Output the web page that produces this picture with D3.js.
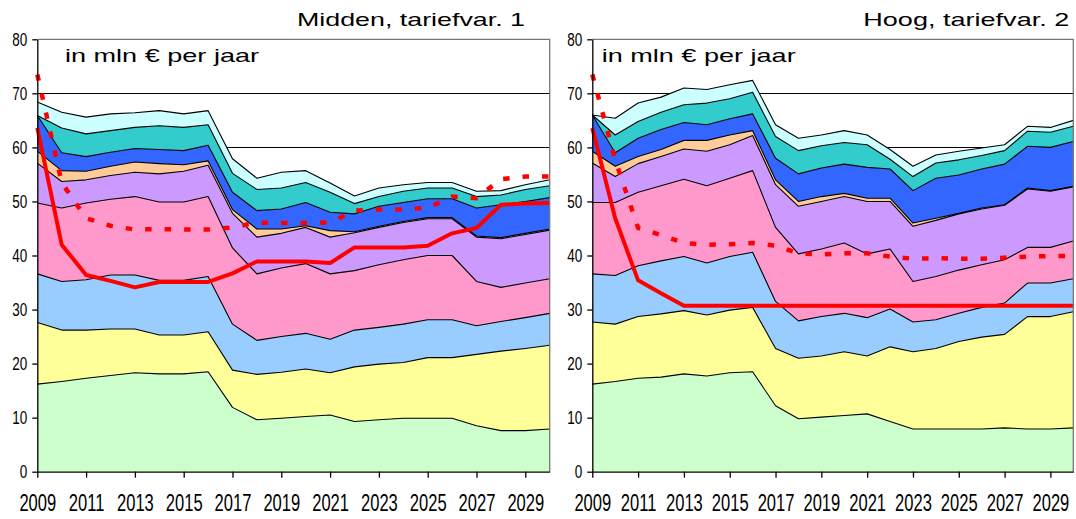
<!DOCTYPE html>
<html>
<head>
<meta charset="utf-8">
<script src="https://cdn.jsdelivr.net/npm/d3@7"></script>
<style>
  html, body { margin: 0; padding: 0; background: #fff; }
  svg { display: block; }
  .tick-label { font-family: 'Liberation Sans', Arial, sans-serif; fill: #000; }
  .wide-label { font-family: 'Liberation Sans', Arial, sans-serif; fill: #000; }
</style>
</head>
<body>
<div id="wrapper"></div>
<script>
// 1. Access data (cumulative stack levels per layer)

const years = [2009, 2010, 2011, 2012, 2013, 2014, 2015, 2016, 2017, 2018, 2019,
  2020, 2021, 2022, 2023, 2024, 2025, 2026, 2027, 2028, 2029, 2030];
const xTickYears = [2009, 2011, 2013, 2015, 2017, 2019, 2021, 2023, 2025, 2027, 2029];
const yTickValues = [0, 10, 20, 30, 40, 50, 60, 70, 80];
const unitLabel = 'in mln € per jaar';

// Midden, tariefvar. 1
const midGreen = [16.2, 16.7, 17.3, 17.8, 18.3, 18.1, 18.1, 18.5, 11.9, 9.6, 9.9, 10.2, 10.5, 9.3, 9.6, 9.9, 9.9, 9.9, 8.5, 7.6, 7.6, 7.9];
const midYellow = [27.6, 26.2, 26.2, 26.4, 26.4, 25.3, 25.3, 25.9, 18.8, 18.0, 18.4, 19.0, 18.3, 19.4, 19.9, 20.2, 21.1, 21.1, 21.7, 22.3, 22.8, 23.4];
const midLightBlue = [36.6, 35.2, 35.5, 36.4, 36.4, 35.4, 35.4, 36.1, 27.3, 24.3, 25.0, 25.6, 24.5, 26.2, 26.7, 27.3, 28.1, 28.1, 27.0, 27.8, 28.5, 29.3];
const midPink = [49.7, 48.8, 49.7, 50.4, 50.9, 49.9, 49.9, 50.9, 41.4, 36.6, 37.7, 38.5, 36.6, 37.2, 38.3, 39.2, 40.0, 40.0, 35.2, 34.1, 34.9, 35.7];
const midLavender = [57.1, 53.7, 54.0, 54.8, 55.4, 55.1, 55.6, 56.7, 47.8, 43.4, 44.1, 45.2, 43.4, 44.2, 45.2, 46.1, 46.8, 46.8, 43.4, 43.1, 43.9, 44.7];
const midPeach = [59.3, 55.7, 55.6, 56.5, 57.3, 57.0, 56.8, 57.5, 48.5, 44.9, 44.9, 45.5, 44.6, 44.4, 45.4, 46.3, 47.0, 47.0, 43.6, 43.3, 44.1, 44.9];
const midBlue = [65.9, 59.0, 58.3, 59.1, 59.8, 59.6, 59.4, 60.4, 51.7, 48.3, 48.6, 49.8, 48.0, 47.7, 49.1, 49.8, 50.5, 50.5, 48.8, 49.4, 50.0, 50.7];
const midTeal = [65.9, 63.6, 62.5, 63.1, 63.7, 64.0, 63.7, 64.2, 55.2, 52.2, 52.5, 53.5, 51.7, 49.6, 50.9, 51.9, 52.5, 52.5, 50.9, 51.2, 52.2, 52.9];
const midCyan = [68.4, 66.5, 65.6, 66.2, 66.4, 66.8, 66.2, 66.8, 57.9, 54.3, 55.4, 55.7, 53.4, 51.0, 52.5, 53.1, 53.5, 53.5, 51.9, 52.0, 53.1, 54.0];
const midSolid = [63.6, 42.0, 36.4, 35.3, 34.1, 35.1, 35.1, 35.1, 36.7, 38.9, 38.9, 38.9, 38.6, 41.5, 41.5, 41.5, 41.8, 44.1, 45.1, 49.4, 49.6, 49.7];
const midDashed = [73.5, 53.5, 46.9, 45.5, 44.8, 44.9, 44.8, 44.8, 45.2, 46.1, 46.0, 46.0, 46.1, 48.3, 48.5, 48.5, 48.8, 50.9, 50.6, 54.1, 54.6, 54.6];

// Hoog, tariefvar. 2
const hoogGreen = [16.2, 16.7, 17.3, 17.5, 18.1, 17.7, 18.3, 18.5, 12.2, 9.8, 10.1, 10.4, 10.7, 9.3, 7.9, 7.9, 7.9, 7.9, 8.1, 7.9, 7.9, 8.1];
const hoogYellow = [27.7, 27.3, 28.7, 29.2, 29.8, 29.0, 29.9, 30.4, 22.8, 21.0, 21.4, 22.2, 21.4, 23.1, 22.2, 22.8, 24.1, 24.9, 25.4, 28.7, 28.7, 29.6];
const hoogLightBlue = [36.6, 36.3, 38.1, 39.0, 39.8, 38.6, 39.8, 40.6, 31.5, 27.9, 28.7, 29.3, 28.5, 30.1, 27.7, 28.1, 29.3, 30.4, 31.2, 34.9, 34.9, 35.7];
const hoogPink = [49.8, 49.8, 51.7, 52.9, 54.1, 52.9, 54.3, 55.7, 45.2, 40.3, 41.2, 42.3, 40.3, 41.2, 35.2, 36.1, 37.3, 38.3, 39.2, 41.5, 41.5, 42.7];
const hoogLavender = [57.1, 54.6, 57.0, 58.3, 59.7, 59.3, 60.5, 62.2, 53.1, 49.1, 50.0, 50.9, 50.0, 50.0, 45.4, 46.5, 47.7, 48.6, 49.3, 52.3, 51.9, 52.7];
const hoogPeach = [59.3, 56.5, 58.3, 59.6, 61.3, 61.3, 62.3, 63.1, 54.0, 50.0, 50.9, 51.5, 50.6, 50.6, 46.0, 46.9, 47.8, 48.8, 49.4, 52.5, 52.0, 52.8];
const hoogBlue = [66.0, 59.0, 61.7, 63.3, 64.6, 64.2, 65.3, 66.2, 58.0, 55.1, 56.2, 56.9, 56.3, 56.0, 52.0, 54.3, 54.9, 56.0, 56.9, 60.2, 60.0, 61.1];
const hoogTeal = [66.0, 62.3, 64.8, 66.5, 67.9, 68.2, 69.0, 70.2, 62.0, 59.4, 60.3, 60.9, 60.5, 57.8, 54.6, 57.1, 57.7, 58.5, 59.4, 63.0, 62.8, 63.9];
const hoogCyan = [66.0, 65.4, 68.2, 69.3, 71.0, 70.7, 71.6, 72.4, 64.2, 61.7, 62.3, 63.1, 62.3, 59.6, 56.5, 58.6, 59.3, 59.9, 60.5, 63.9, 63.7, 65.0];
const hoogSolid = [63.6, 46.9, 35.4, 33.0, 30.7, 30.7, 30.7, 30.7, 30.7, 30.7, 30.7, 30.7, 30.7, 30.7, 30.7, 30.7, 30.7, 30.7, 30.7, 30.7, 30.7, 30.7];
const hoogDashed = [73.5, 57.7, 45.1, 43.8, 42.3, 42.0, 42.1, 42.3, 41.8, 40.4, 40.2, 40.4, 40.4, 39.8, 39.4, 39.5, 39.4, 39.4, 39.6, 39.8, 39.9, 39.9];

const layerColors = ['#ccffcc', '#ffff99', '#99ccff', '#ff99cc', '#cc99ff', '#ffcc99', '#3366ff', '#33cccc', '#ccffff'];

const panels = [
  {
    title: 'Midden, tariefvar. 1',
    levels: [midGreen, midYellow, midLightBlue, midPink, midLavender, midPeach, midBlue, midTeal, midCyan],
    solid: midSolid,
    dashed: midDashed,
    left: 37.3, right: 549.7,
    titleRight: 525, titleWidth: 228, labelX: 65,
  },
  {
    title: 'Hoog, tariefvar. 2',
    levels: [hoogGreen, hoogYellow, hoogLightBlue, hoogPink, hoogLavender, hoogPeach, hoogBlue, hoogTeal, hoogCyan],
    solid: hoogSolid,
    dashed: hoogDashed,
    left: 592.3, right: 1073.3,
    titleRight: 1069.3, titleWidth: 206, labelX: 601.7,
  },
];

// 2. Chart dimensions

const dimensions = { width: 1076, height: 519, top: 39.3, bottom: 471.7 };

// 3. Draw canvas

const svg = d3.select('#wrapper')
  .append('svg')
  .attr('width', dimensions.width)
  .attr('height', dimensions.height);

panels.forEach(drawPanel);

function drawPanel(p) {
  const g = svg.append('g');

  // 4. Scales
  const xScale = d3.scaleLinear().domain([2009, 2030]).range([p.left, p.right]);
  const yScale = d3.scaleLinear().domain([0, 80]).range([dimensions.bottom, dimensions.top]);

  // gridlines (mostly hidden behind the stack)
  g.append('g')
    .selectAll('line')
    .data(yTickValues.filter((v) => v > 0 && v < 80))
    .join('line')
    .attr('x1', p.left).attr('x2', p.right)
    .attr('y1', (d) => Math.round(yScale(d)) + 0.5)
    .attr('y2', (d) => Math.round(yScale(d)) + 0.5)
    .attr('stroke', '#000')
    .attr('stroke-width', 1);

  // 5. Draw data
  const area = d3.area()
    .x((d) => xScale(d.year))
    .y0((d) => yScale(d.low))
    .y1((d) => yScale(d.high));

  const topLine = d3.line()
    .x((d) => xScale(d.year))
    .y((d) => yScale(d.high));

  p.levels.forEach((level, i) => {
    const rows = years.map((year, j) => ({
      year,
      low: i === 0 ? 0 : p.levels[i - 1][j],
      high: level[j],
    }));
    g.append('path')
      .attr('d', area(rows))
      .attr('fill', layerColors[i]);
  });

  p.levels.forEach((level) => {
    const rows = years.map((year, j) => ({ year, high: level[j] }));
    g.append('path')
      .attr('d', topLine(rows))
      .attr('fill', 'none')
      .attr('stroke', '#000')
      .attr('stroke-width', 1.1)
      .attr('stroke-linejoin', 'round');
  });

  const redLine = d3.line()
    .x((d, j) => xScale(years[j]))
    .y((d) => yScale(d));

  g.append('path')
    .attr('d', redLine(p.dashed))
    .attr('fill', 'none')
    .attr('stroke', '#ff0000')
    .attr('stroke-width', 4.5)
    .attr('stroke-dasharray', '6.5 13');

  g.append('path')
    .attr('d', redLine(p.solid))
    .attr('fill', 'none')
    .attr('stroke', '#ff0000')
    .attr('stroke-width', 4)
    .attr('stroke-linejoin', 'round');

  // 6. Peripherals
  // frame top / right
  g.append('path')
    .attr('d', `M${p.left},${dimensions.top}H${p.right}V${dimensions.bottom}`)
    .attr('fill', 'none')
    .attr('stroke', '#777')
    .attr('stroke-width', 1.3);

  const yAxis = d3.axisLeft(yScale)
    .tickValues(yTickValues)
    .tickSize(5)
    .tickSizeOuter(0)
    .tickPadding(5);
  const yG = g.append('g')
    .attr('transform', `translate(${p.left},0)`)
    .call(yAxis);
  // narrow glyphs: scale horizontally around the label's anchor
  yG.selectAll('text')
    .attr('class', 'tick-label')
    .style('font-size', '18px')
    .attr('x', 0)
    .attr('transform', 'translate(-10,0) scale(0.75,1)');

  const xAxis = d3.axisBottom(xScale)
    .tickValues(xTickYears)
    .tickFormat(d3.format('d'))
    .tickSize(6)
    .tickSizeOuter(0)
    .tickPadding(17);
  const xG = g.append('g')
    .attr('transform', `translate(0,${dimensions.bottom})`)
    .call(xAxis);
  xG.selectAll('text')
    .attr('class', 'tick-label')
    .style('font-size', '23px')
    .attr('transform', 'scale(0.72,1)');

  [yG, xG].forEach((ax) => {
    ax.selectAll('.domain, line').attr('stroke', '#000').attr('stroke-width', 1.3);
    ax.attr('font-family', null).attr('font-size', null);
  });

  g.append('text')
    .attr('class', 'wide-label')
    .attr('x', p.titleRight - p.titleWidth)
    .attr('y', 26)
    .style('font-size', '19px')
    .attr('textLength', p.titleWidth)
    .attr('lengthAdjust', 'spacingAndGlyphs')
    .text(p.title);

  g.append('text')
    .attr('class', 'wide-label')
    .attr('x', p.labelX)
    .attr('y', 61.7)
    .style('font-size', '19px')
    .attr('textLength', 194)
    .attr('lengthAdjust', 'spacingAndGlyphs')
    .text(unitLabel);
}
</script>
</body>
</html>
